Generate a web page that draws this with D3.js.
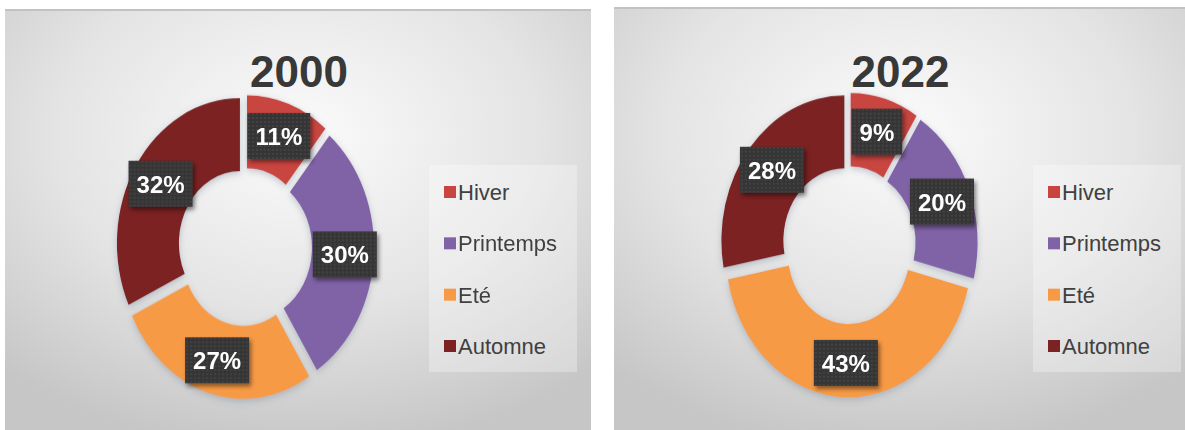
<!DOCTYPE html>
<html>
<head>
<meta charset="utf-8">
<script src="https://cdn.jsdelivr.net/npm/d3@7"></script>
<style>
  body { margin: 0; background: #fff; }
  svg { display: block; }
</style>
</head>
<body>
<script>
const categories = ["Hiver", "Printemps", "Eté", "Automne"];
const years = ["2000", "2022"];
const values2000 = [11, 30, 27, 32];
const values2022 = [9, 20, 43, 28];
const colors = ["#c9443f", "#8062a6", "#f79a45", "#7b2222"];

const width = 1185;
const height = 430;

// panel frames, one per year
const panels = [
  { year: years[0], values: values2000, x: 5, y: 9, w: 586, h: 421, cx: 245, cy: 247 },
  { year: years[1], values: values2022, x: 614, y: 7, w: 571, h: 423, cx: 849, cy: 245 }
];

const outerR = 123;
const innerR = 61;
const stretch = 1.18;   // the donuts are drawn taller than wide
const explode = 6;
const labelR = 100;

const svg = d3.select('body')
  .append('svg')
  .attr('width', width)
  .attr('height', height);

const defs = svg.append('defs');

const grad = defs.append('radialGradient')
  .attr('id', 'bg')
  .attr('cx', '50%').attr('cy', '30%').attr('r', '75%');
grad.append('stop').attr('offset', '0%').attr('stop-color', '#fbfbfb');
grad.append('stop').attr('offset', '55%').attr('stop-color', '#e4e4e4');
grad.append('stop').attr('offset', '100%').attr('stop-color', '#c6c6c6');

const dots = defs.append('pattern')
  .attr('id', 'dots')
  .attr('width', 4).attr('height', 4)
  .attr('patternUnits', 'userSpaceOnUse');
dots.append('rect').attr('width', 4).attr('height', 4).attr('fill', '#363636');
dots.append('circle').attr('cx', 2).attr('cy', 2).attr('r', 0.7).attr('fill', '#555');

const sliceShadow = defs.append('filter').attr('id', 'sliceShadow')
  .attr('x', '-20%').attr('y', '-20%').attr('width', '140%').attr('height', '140%');
sliceShadow.append('feDropShadow')
  .attr('dx', 0).attr('dy', 2).attr('stdDeviation', 3)
  .attr('flood-color', '#7d8a99').attr('flood-opacity', 0.45);

const boxShadow = defs.append('filter').attr('id', 'boxShadow')
  .attr('x', '-20%').attr('y', '-20%').attr('width', '150%').attr('height', '150%');
boxShadow.append('feDropShadow')
  .attr('dx', 2).attr('dy', 3).attr('stdDeviation', 2)
  .attr('flood-color', '#000').attr('flood-opacity', 0.45);

const pie = d3.pie().sort(null).value(d => d);
const arc = d3.arc().innerRadius(innerR).outerRadius(outerR);
const labelArc = d3.arc().innerRadius(labelR).outerRadius(labelR);

const legendRows = d3.scalePoint()
  .domain(categories)
  .range([192, 346]);

panels.forEach(p => {
  const g = svg.append('g');

  // background
  g.append('rect')
    .attr('x', p.x).attr('y', p.y)
    .attr('width', p.w).attr('height', p.h)
    .attr('fill', 'url(#bg)');
  g.append('line')
    .attr('x1', p.x).attr('x2', p.x + p.w)
    .attr('y1', p.y + 1).attr('y2', p.y + 1)
    .attr('stroke', '#c2c2c2').attr('stroke-width', 2);

  // title
  g.append('text')
    .attr('x', p.x + p.w / 2 + 1)
    .attr('y', 87)
    .attr('text-anchor', 'middle')
    .style('font-family', '"Liberation Sans", Arial, sans-serif')
    .style('font-weight', 'bold')
    .style('font-size', '44px')
    .style('fill', '#383838')
    .text(p.year);

  const arcs = pie(p.values);

  // slices
  const ring = g.append('g')
    .attr('transform', `translate(${p.cx},${p.cy}) scale(1,${stretch})`)
    .attr('filter', 'url(#sliceShadow)');
  ring.selectAll('path')
    .data(arcs)
    .join('path')
    .attr('d', arc)
    .attr('fill', (d, i) => colors[i])
    .attr('transform', d => {
      const a = (d.startAngle + d.endAngle) / 2;
      return `translate(${explode * Math.sin(a)},${-explode * Math.cos(a)})`;
    });

  // data labels
  arcs.forEach((d, i) => {
    const c = labelArc.centroid(d);
    const lx = p.cx + c[0];
    const ly = p.cy + c[1] * stretch;
    const lg = g.append('g').attr('transform', `translate(${lx},${ly})`);
    const rect = lg.append('rect').attr('fill', 'url(#dots)').attr('filter', 'url(#boxShadow)');
    const t = lg.append('text')
      .attr('text-anchor', 'middle')
      .attr('y', 9)
      .style('font-family', '"Liberation Sans", Arial, sans-serif')
      .style('font-weight', 'bold')
      .style('font-size', '24px')
      .style('fill', '#fff')
      .text(d.data + '%');
    const tw = t.node().getComputedTextLength();
    rect.attr('x', -tw / 2 - 8).attr('y', -23)
      .attr('width', tw + 16).attr('height', 46);
  });

  // legend
  const lx0 = p.cx + 184;
  g.append('rect')
    .attr('x', lx0).attr('y', 165)
    .attr('width', 148).attr('height', 207)
    .attr('fill', '#fff').attr('fill-opacity', 0.3);
  const items = g.selectAll('.legend-item')
    .data(categories)
    .join('g')
    .attr('class', 'legend-item')
    .attr('transform', d => `translate(${p.cx + 199},${legendRows(d)})`);
  items.append('rect')
    .attr('x', 0).attr('y', -6)
    .attr('width', 12).attr('height', 12)
    .attr('fill', (d, i) => colors[i]);
  items.append('text')
    .attr('x', 14).attr('y', 8)
    .style('font-family', '"Liberation Sans", Arial, sans-serif')
    .style('font-size', '22px')
    .style('fill', '#404040')
    .text(d => d);
});
</script>
</body>
</html>
